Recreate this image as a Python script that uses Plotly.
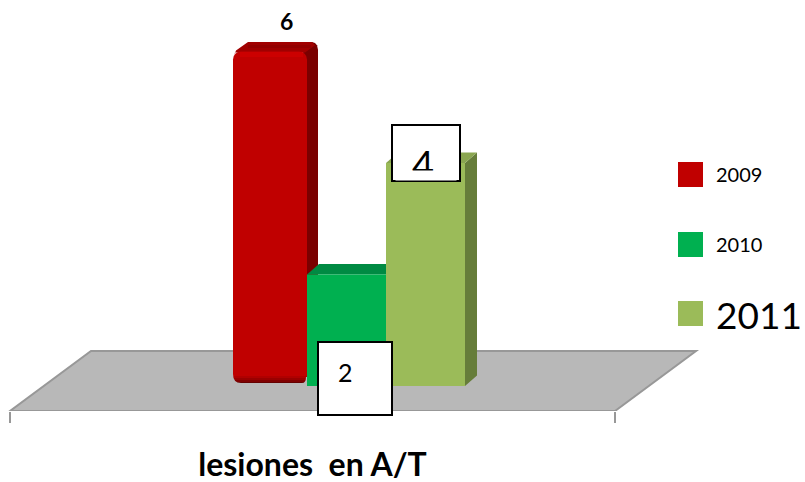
import plotly.graph_objects as go

categories = ["lesiones  en A/T"]
years = ["2009", "2010", "2011"]
values = [6, 2, 4]
colors = ["#C00000", "#00B050", "#9BBB59"]
top_colors = ["#A00000", "#008A43", "#8AA650"]
side_colors = ["#7A0000", "#007A38", "#667D3A"]

W, H = 805, 482
BOTTOM = 71
PX_PER_UNIT = 55.75   # vertical pixels per value unit
BAND = 605.0          # pixels per category band
CX = 312.5            # centre of the category band
Y0 = 386.0            # pixel row of value 0


def X(px):
    return (px - CX) / BAND


def Yp(py):
    return (Y0 - py) / PX_PER_UNIT


def PX(px):
    return px / W


def PY(py):
    return 1 - py / (H - BOTTOM)


bar_left = [233, 307, 386]
bar_width = [74, 79, 79]
depth_x = [11, 12, 12]
depth_y = [9.5, 10.5, 10.5]

fig = go.Figure()
for i, yr in enumerate(years):
    fig.add_trace(go.Bar(
        x=categories, y=[values[i]], name=yr,
        width=[bar_width[i] / BAND], offset=[X(bar_left[i])],
        marker=dict(color=colors[i], line=dict(width=0),
                    cornerradius=8 if i == 0 else 0),
        showlegend=False, hoverinfo="skip",
    ))


def path(points, close=True):
    d = "M" + " L".join(f"{X(a):.5f},{b:.5f}" for a, b in points)
    return d + (" Z" if close else "")


shapes = []
# floor
floor = [(10, Yp(411)), (615, Yp(411)), (696, Yp(351)), (91, Yp(351))]
shapes.append(dict(type="path", path=path(floor), xref="x", yref="y", layer="below",
                   fillcolor="#B8B8B8", line=dict(color="#989898", width=2)))

# 3D faces, driven by the values
for i, v in enumerate(values):
    l, r = bar_left[i], bar_left[i] + bar_width[i]
    dx, dy = depth_x[i], depth_y[i] / PX_PER_UNIT
    if i == 0:
        side = [(r - 4, v - 0.02), (r + dx - 6, v + dy), (r + dx - 3, v + dy - 0.02),
                (r + dx - 1, v + dy - 0.06), (r + dx, v + dy - 0.14), (r + dx, 0.3), (r, 0.3)]
        top = [(l, v - 0.12), (l + 2, v - 0.02), (r - 2, v - 0.02), (r + dx - 3, v + dy - 0.06),
               (r + dx - 6, v + dy), (l + 15, v + dy), (l + 3, v + 0.02)]
    else:
        side = [(r, v), (r + dx, v + dy), (r + dx, dy), (r, 0)]
        top = [(l, v), (l + dx, v + dy), (r + dx, v + dy), (r, v)]
    shapes.append(dict(type="path", path=path(side), xref="x", yref="y", layer="below",
                       fillcolor=side_colors[i], line=dict(width=0)))
    shapes.append(dict(type="path", path=path(top), xref="x", yref="y", layer="below",
                       fillcolor=top_colors[i], line=dict(width=0)))

# bevel strips of the first bar's top face and front edge
l0, r0 = bar_left[0], bar_left[0] + bar_width[0]
for y_a, y_b, xa, xb, col in [(45, 48, 248, 311, "#8A0000"),
                              (52, 57, 240, 303, "#D40000")]:
    shapes.append(dict(type="rect", xref="x", yref="y", x0=X(xa), x1=X(xb), y0=Yp(y_b), y1=Yp(y_a),
                       fillcolor=col, line=dict(width=0), layer="above", opacity=0.6))

# rounded foot of the first bar with its dark gradient
for y_a, y_b, col in [(376, 378, "#B00000"), (378, 380, "#9A0000"), (380, 382, "#800000"), (382, 384, "#640000")]:
    shapes.append(dict(type="rect", xref="x", yref="y", x0=X(l0), x1=X(r0), y0=Yp(y_b), y1=Yp(y_a),
                       fillcolor=col, line=dict(width=0), layer="above"))
foot = (f"M{X(l0-1):.5f},{Yp(374):.5f} L{X(l0):.5f},{Yp(374):.5f} "
        f"Q{X(l0):.5f},{Yp(383):.5f} {X(l0+8):.5f},{Yp(383):.5f} "
        f"L{X(r0-5):.5f},{Yp(383):.5f} Q{X(r0-1):.5f},{Yp(383):.5f} {X(r0-1):.5f},{Yp(377):.5f} "
        f"L{X(r0):.5f},{Yp(377):.5f} L{X(r0):.5f},{Yp(387):.5f} L{X(l0-1):.5f},{Yp(387):.5f} Z")
shapes.append(dict(type="path", path=foot, xref="x", yref="y", layer="above",
                   fillcolor="#B8B8B8", line=dict(width=0)))

# legend swatches
leg_top = [162, 232, 301]
leg_size = [20, 20, 37]
for i in range(3):
    shapes.append(dict(type="rect", xref="paper", yref="paper", x0=PX(678), x1=PX(703),
                       y0=PY(leg_top[i] + 25), y1=PY(leg_top[i]),
                       fillcolor=colors[i], line=dict(width=0), layer="above"))

# label boxes
box4 = (392, 125, 460, 181)
box2 = (318, 342, 392, 415)
for b in (box4, box2):
    shapes.append(dict(type="rect", xref="paper", yref="paper", x0=PX(b[0]), x1=PX(b[2]),
                       y0=PY(b[3]), y1=PY(b[1]), fillcolor="white",
                       line=dict(color="black", width=2), layer="above"))

FONT = "Lato, 'Open Sans', sans-serif"
ann = []
# data labels
ann.append(dict(x=X(286), y=Yp(21), xref="x", yref="y", text=f"<b>{values[0]}</b>", showarrow=False,
                yanchor="middle", font=dict(family=FONT, size=23, color="black")))
ann.append(dict(x=X(345), y=Yp(372), xref="x", yref="y", text=str(values[1]), showarrow=False,
                yanchor="middle", font=dict(family=FONT, size=25, color="black")))
ann.append(dict(x=X(423), y=Yp(164), xref="x", yref="y", text=str(values[2]), showarrow=False,
                yanchor="middle", font=dict(family=FONT, size=38, color="black")))
# mask that cuts the lower part of the "4", as in the source
ann.append(dict(x=X(426), y=Yp(175.5), xref="x", yref="y", text=" ", showarrow=False,
                yanchor="middle", width=60, height=9, bgcolor="white", borderpad=0,
                font=dict(family=FONT, size=6, color="white")))
# legend text
leg_y = [174, 244, 314]
for i in range(3):
    ann.append(dict(x=PX(714), y=PY(leg_y[i]), xref="paper", yref="paper",
                    xanchor="left", yanchor="middle", text=years[i], showarrow=False,
                    font=dict(family=FONT, size=leg_size[i], color="black")))

fig.update_layout(
    width=W, height=H, autosize=False,
    margin=dict(l=0, r=0, t=0, b=BOTTOM, pad=0),
    paper_bgcolor="white", plot_bgcolor="white",
    barmode="overlay", showlegend=False,
    shapes=shapes, annotations=ann,
    xaxis=dict(type="category", range=[X(0), X(W)], tickson="boundaries",
               ticks="outside", ticklen=11, tickwidth=2, tickcolor="#989898",
               showgrid=False, showline=False, zeroline=False, ticklabelstandoff=32,
               tickfont=dict(family=FONT, size=32, color="black", weight="bold")),
    yaxis=dict(range=[Yp(411), Yp(0)], visible=False, showgrid=False, zeroline=False),
)
fig.write_html("out.html", config=dict(displayModeBar=False),
               post_script="document.body.style.margin='0';document.body.style.overflow='hidden';")
